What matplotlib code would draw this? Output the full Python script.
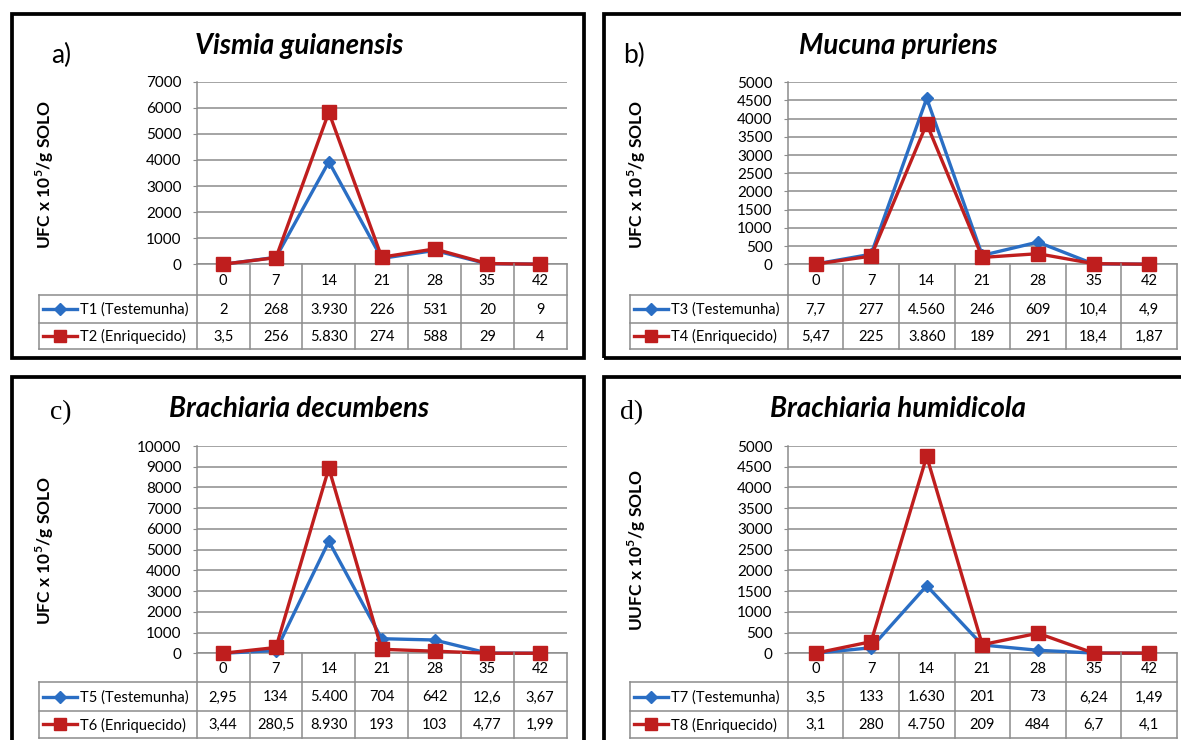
import matplotlib
matplotlib.use('Agg')
import matplotlib.pyplot as plt
from matplotlib.patches import Rectangle

plt.rcParams['font.family'] = ['Lato', 'DejaVu Sans']
plt.rcParams['mathtext.fontset'] = 'custom'
plt.rcParams['mathtext.rm'] = 'Lato'
plt.rcParams['mathtext.bf'] = 'Lato:bold'

W, H = 1181, 740

# ---------------- data ----------------
days = [0, 7, 14, 21, 28, 35, 42]
titles = ['Vismia guianensis', 'Mucuna pruriens', 'Brachiaria decumbens', 'Brachiaria humidicola']
letters = ['a)', 'b)', 'c)', 'd)']
ylabels = [r'UFC x 10$^{\mathbf{5}}$/g SOLO', r'UFC x 10$^{\mathbf{5}}$/g SOLO',
           r'UFC x 10$^{\mathbf{5}}$/g SOLO', r'UUFC x 10$^{\mathbf{5}}$/g SOLO']
names_test = ['T1 (Testemunha)', 'T3 (Testemunha)', 'T5 (Testemunha)', 'T7 (Testemunha)']
names_enr = ['T2 (Enriquecido)', 'T4 (Enriquecido)', 'T6 (Enriquecido)', 'T8 (Enriquecido)']
t1 = [2, 268, 3930, 226, 531, 20, 9]
t2 = [3.5, 256, 5830, 274, 588, 29, 4]
t3 = [7.7, 277, 4560, 246, 609, 10.4, 4.9]
t4 = [5.47, 225, 3860, 189, 291, 18.4, 1.87]
t5 = [2.95, 134, 5400, 704, 642, 12.6, 3.67]
t6 = [3.44, 280.5, 8930, 193, 103, 4.77, 1.99]
t7 = [3.5, 133, 1630, 201, 73, 6.24, 1.49]
t8 = [3.1, 280, 4750, 209, 484, 6.7, 4.1]
test_series = [t1, t3, t5, t7]
enr_series = [t2, t4, t6, t8]
y_max = [7000, 5000, 10000, 5000]
y_step = [1000, 500, 1000, 500]

# ---------------- layout (pixels) ----------------
BLUE = '#2A6EC4'
RED = '#BF1E1E'
GRID = '#8c8c8c'

layouts = [
    dict(L=196.7, T=81.7, R=566.7, B=264.3, leg=39, rows=[30.7, 27.7, 26.3],
         border=(12, 14, 584, 358), title=(299, 46), letter=(61, 55), ylab=(45, 174), serif=False),
    dict(L=787.7, T=82.3, R=1176.9, B=264.3, leg=630, rows=[30.7, 27.7, 26.3],
         border=(603.7, 14, 1200, 358), title=(898, 46), letter=(634, 55), ylab=(637, 174), serif=False),
    dict(L=196.7, T=446, R=566.7, B=653.3, leg=39, rows=[29, 28.4, 27],
         border=(12, 377, 584, 760), title=(299, 409), letter=(61, 413), ylab=(45, 550), serif=True),
    dict(L=787.7, T=446, R=1176.9, B=653.3, leg=630, rows=[29, 28.4, 27],
         border=(603.7, 377, 1200, 760), title=(898, 409), letter=(632, 413), ylab=(637, 550), serif=True),
]


def fx(x):
    return x / W


def fy(y):
    return 1 - y / H


def fmt(v):
    if float(v).is_integer():
        return f"{int(v):,}".replace(',', '.')
    return str(v).replace('.', ',')


fig = plt.figure(figsize=(W / 100, H / 100), dpi=100)

x = list(range(len(days)))
TFS = 10.5

for k in range(4):
    lay = layouts[k]
    L, T, R, B = lay['L'], lay['T'], lay['R'], lay['B']
    # panel border
    bx0, by0, bx1, by1 = lay['border']
    fig.patches.append(Rectangle((fx(bx0), fy(by1)), (bx1 - bx0) / W, (by1 - by0) / H,
                                 transform=fig.transFigure, fill=False, ec='black', lw=2.7))
    # plot axes
    ax = fig.add_axes([fx(L), fy(B), (R - L) / W, (B - T) / H])
    ax.set_xlim(-0.5, 6.5)
    ax.set_ylim(0, y_max[k])
    ax.set_yticks(list(range(0, y_max[k] + 1, y_step[k])))
    ax.set_xticks([])
    ax.yaxis.grid(True, color=GRID, lw=1.1)
    ax.set_axisbelow(True)
    for s in ['top', 'right']:
        ax.spines[s].set_visible(False)
    for s in ['left', 'bottom']:
        ax.spines[s].set_color(GRID)
        ax.spines[s].set_linewidth(1.1)
    ax.tick_params(axis='y', length=3, color=GRID, labelsize=11, pad=8)
    ax.plot(x, test_series[k], color=BLUE, lw=2.4, marker='D', ms=6.5, zorder=3, clip_on=False)
    ax.plot(x, enr_series[k], color=RED, lw=2.4, marker='s', ms=9.5, zorder=4, clip_on=False)

    # table axes
    rows = lay['rows']
    tot = sum(rows)
    colw = (R - L) / 7
    xl = -0.5 - (L - lay['leg']) / colw
    tax = fig.add_axes([fx(lay['leg']), fy(B + tot), (R - lay['leg']) / W, tot / H])
    tax.set_xlim(xl, 6.5)
    tax.set_ylim(tot, 0)
    tax.axis('off')
    y1 = rows[0]
    y2 = rows[0] + rows[1]
    for yy in [y1, y2, tot]:
        tax.plot([xl, 6.5], [yy, yy], color=GRID, lw=1.1, clip_on=False)
    for c in range(8):
        tax.plot([c - 0.5, c - 0.5], [0, tot], color=GRID, lw=1.1, clip_on=False)
    tax.plot([xl, xl], [y1, tot], color=GRID, lw=1.1, clip_on=False)
    for i, d in enumerate(days):
        tax.text(i, y1 / 2 + 1, str(d), ha='center', va='center', fontsize=TFS)
        tax.text(i, y1 + rows[1] / 2 + 1, fmt(test_series[k][i]), ha='center', va='center', fontsize=TFS)
        tax.text(i, y2 + rows[2] / 2 + 1, fmt(enr_series[k][i]), ha='center', va='center', fontsize=TFS)
    px = 1 / colw
    for yy, col, mk, ms, name in [(y1 + rows[1] / 2, BLUE, 'D', 6, names_test[k]),
                                  (y2 + rows[2] / 2, RED, 's', 9, names_enr[k])]:
        tax.plot([xl + 4 * px, xl + 38 * px], [yy, yy], color=col, lw=2.4, clip_on=False)
        tax.plot([xl + 21 * px], [yy], color=col, marker=mk, ms=ms, clip_on=False)
        tax.text(xl + 41 * px, yy + 1, name, ha='left', va='center', fontsize=TFS)

    # titles, letters, y label
    fig.text(fx(lay['title'][0]), fy(lay['title'][1]), titles[k], ha='center', va='center',
             fontsize=20, fontweight='bold', fontstyle='italic')
    if lay['serif']:
        fig.text(fx(lay['letter'][0]), fy(lay['letter'][1]), letters[k], ha='center', va='center',
                 fontsize=20, family='Liberation Serif')
    else:
        fig.text(fx(lay['letter'][0]), fy(lay['letter'][1]), letters[k], ha='center', va='center',
                 fontsize=19)
    fig.text(fx(lay['ylab'][0]), fy(lay['ylab'][1]), ylabels[k], ha='center', va='center',
             rotation=90, fontsize=12.5, fontweight='bold')

fig.savefig('out.png', dpi=100)
